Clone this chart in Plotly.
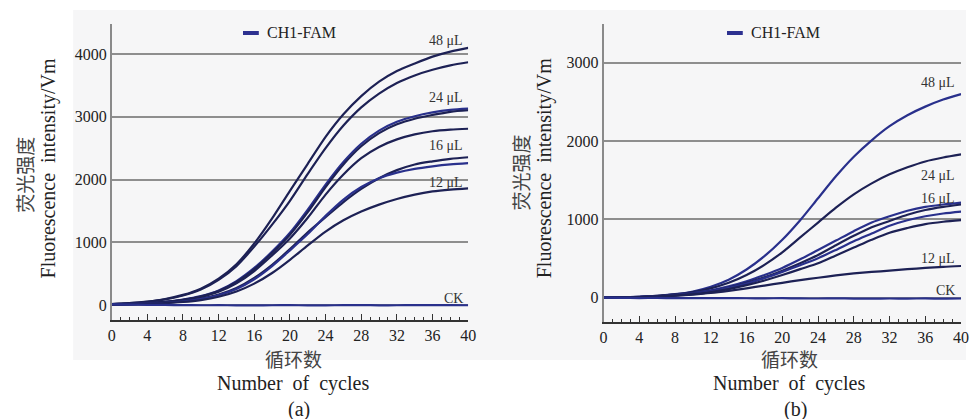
import plotly.graph_objects as go

cycles = list(range(0, 41, 2))

# Panel (a) curves (fluorescence at cycles 0,2,...,40)
a_48_1 = [15, 30, 55, 95, 160, 260, 420, 650, 980, 1380, 1820, 2250, 2680, 3040, 3330, 3560, 3730, 3850, 3960, 4040, 4100]
a_48_2 = [15, 28, 50, 88, 150, 245, 400, 620, 930, 1280, 1660, 2090, 2500, 2860, 3150, 3370, 3540, 3660, 3750, 3820, 3870]
a_24_1 = [10, 18, 30, 50, 85, 140, 230, 380, 590, 850, 1150, 1520, 1920, 2280, 2570, 2780, 2920, 3010, 3070, 3110, 3130]
a_24_2 = [10, 18, 30, 50, 82, 135, 222, 365, 570, 830, 1120, 1480, 1880, 2240, 2530, 2740, 2880, 2970, 3030, 3080, 3105]
a_24_3 = [10, 17, 28, 46, 78, 128, 210, 345, 540, 790, 1060, 1390, 1760, 2080, 2340, 2520, 2640, 2720, 2770, 2795, 2810]
a_16_1 = [8, 14, 22, 36, 60, 100, 165, 270, 430, 640, 890, 1160, 1400, 1640, 1850, 2020, 2150, 2240, 2290, 2330, 2355]
a_16_2 = [8, 13, 20, 33, 55, 92, 155, 255, 410, 620, 870, 1130, 1420, 1680, 1880, 2020, 2110, 2170, 2210, 2240, 2260]
a_12_1 = [5, 10, 17, 28, 47, 78, 130, 215, 340, 510, 720, 950, 1170, 1350, 1490, 1600, 1690, 1760, 1810, 1840, 1860]
a_ck = [10, 6, 2, 0, -3, -5, -4, -6, -8, -5, -3, -7, -6, -4, -2, -6, -5, -3, -4, -2, -5]

# Panel (b) curves
b_48_1 = [0, 5, 12, 25, 45, 80, 140, 230, 360, 530, 740, 990, 1270, 1550, 1800, 2010, 2190, 2330, 2440, 2530, 2600]
b_24_1 = [0, 5, 12, 24, 42, 72, 120, 190, 290, 420, 580, 770, 960, 1150, 1320, 1460, 1575, 1665, 1740, 1790, 1830]
b_16_1 = [0, 4, 10, 20, 35, 58, 95, 145, 210, 290, 380, 490, 610, 730, 850, 960, 1040, 1110, 1160, 1190, 1215]
b_16_2 = [0, 4, 9, 18, 32, 52, 85, 130, 190, 260, 345, 440, 545, 670, 790, 900, 980, 1060, 1120, 1160, 1190]
b_16_3 = [0, 4, 9, 18, 31, 50, 82, 125, 180, 250, 330, 415, 505, 610, 720, 820, 920, 990, 1040, 1075, 1100]
b_16_4 = [0, 4, 8, 16, 28, 45, 72, 110, 160, 220, 290, 365, 440, 540, 640, 740, 830, 890, 940, 970, 990]
b_12_1 = [0, 3, 8, 15, 25, 40, 60, 88, 120, 155, 190, 225, 255, 285, 310, 330, 345, 365, 380, 395, 405]
b_ck = [0, -2, -4, -3, -5, -6, -4, -5, -7, -8, -6, -9, -10, -8, -11, -12, -10, -11, -9, -12, -10]

x_ticks = list(range(0, 41, 4))
a_yticks = [0, 1000, 2000, 3000, 4000]
b_yticks = [0, 1000, 2000, 3000]

a_labels = ["48 μL", "24 μL", "16 μL", "12 μL", "CK"]
a_label_y = [4210, 3300, 2545, 1955, 100]
b_labels = ["48 μL", "24 μL", "16 μL", "12 μL", "CK"]
b_label_y = [2752, 1567, 1261, 507, 86]

legend_text = "CH1-FAM"
ytitle_cn = "荧光强度"
ytitle_en = "Fluorescence  intensity/Vm"
xtitle_cn = "循环数"
xtitle_en = "Number  of  cycles"
panel_tags = ["(a)", "(b)"]

W, H = 974, 419
SERIF = "'Liberation Serif', 'Times New Roman', Times, serif"
CJK = "'Noto Sans CJK SC', 'Noto Sans CJK JP', sans-serif"
DARK = "#1d2155"
BLUE = "#29308c"

fig = go.Figure()

a_series = [a_48_1, a_48_2, a_24_1, a_24_2, a_24_3, a_16_1, a_16_2, a_12_1, a_ck]
b_series = [b_48_1, b_24_1, b_16_1, b_16_2, b_16_3, b_16_4, b_12_1, b_ck]
a_cols = [DARK, DARK, BLUE, DARK, DARK, DARK, BLUE, DARK, BLUE]
b_cols = [BLUE, DARK, BLUE, DARK, BLUE, DARK, DARK, BLUE]

for ys, c in zip(a_series, a_cols):
    fig.add_trace(go.Scatter(x=cycles, y=ys, mode="lines", xaxis="x", yaxis="y",
                             line=dict(color=c, width=2.2, shape="spline", smoothing=0.8),
                             showlegend=False, hoverinfo="skip"))
for ys, c in zip(b_series, b_cols):
    fig.add_trace(go.Scatter(x=cycles, y=ys, mode="lines", xaxis="x2", yaxis="y2",
                             line=dict(color=c, width=2.2, shape="spline", smoothing=0.8),
                             showlegend=False, hoverinfo="skip"))

def px_x(p):
    return p / W

def px_y(p):
    return 1 - p / H

tickfont = dict(family=SERIF, size=16, color="#222")
common_x = dict(range=[0, 40], tickvals=x_ticks, ticks="inside", ticklen=6, tickwidth=1.3,
                tickcolor="#333", showline=True, linecolor="#333", linewidth=1.5,
                showgrid=False, zeroline=False, tickfont=tickfont,
                minor=dict(dtick=1, ticks="inside", ticklen=3, tickwidth=1, tickcolor="#333", showgrid=False))
common_y = dict(showgrid=True, gridcolor="#8e8e8e", gridwidth=1.5, showline=True,
                linecolor="#8a8a8a", linewidth=1.5, zeroline=False, ticks="",
                tickfont=dict(family=SERIF, size=16, color="#222"))

fig.update_layout(
    width=W, height=H, autosize=False,
    margin=dict(l=0, r=0, t=0, b=0),
    paper_bgcolor="white", plot_bgcolor="rgba(0,0,0,0)",
    showlegend=False,
    font=dict(family=SERIF),
    xaxis=dict(domain=[px_x(109), px_x(470)], anchor="y", **common_x),
    yaxis=dict(domain=[px_y(320), px_y(24)], anchor="x", range=[-240, 4480], tickvals=a_yticks, **common_y),
    xaxis2=dict(domain=[px_x(607), px_x(969)], anchor="y2", **common_x),
    yaxis2=dict(domain=[px_y(322), px_y(24)], anchor="x2", range=[-310, 3495], tickvals=b_yticks, **common_y),
)

shapes = [dict(type="rect", xref="paper", yref="paper", x0=px_x(70), x1=1, y0=px_y(360), y1=px_y(10),
               fillcolor="#f6f6f7", line=dict(width=0), layer="below")]
ann = []

# legends
for lx0, lx1, tx in [(242, 258, 264), (732, 748, 754)]:
    shapes.append(dict(type="line", xref="paper", yref="paper", x0=px_x(lx0), x1=px_x(lx1),
                       y0=px_y(33), y1=px_y(33), line=dict(color="#2d3190", width=4)))
    ann.append(dict(text=legend_text, xref="paper", yref="paper", x=px_x(tx), y=px_y(33),
                    xanchor="left", yanchor="middle", showarrow=False,
                    font=dict(family=SERIF, size=16, color="#222")))

for t, yv in zip(a_labels, a_label_y):
    ann.append(dict(text=t, xref="x", yref="y", x=39.6, y=yv, xanchor="right", yanchor="middle",
                    showarrow=False, font=dict(family=SERIF, size=14, color="#333")))
for t, yv in zip(b_labels, b_label_y):
    ann.append(dict(text=t, xref="x2", yref="y2", x=39.6, y=yv, xanchor="right", yanchor="middle",
                    showarrow=False, font=dict(family=SERIF, size=14, color="#333")))

titlefont_cn = dict(family=CJK, size=19, color="#444")
titlefont_en = dict(family=SERIF, size=20, color="#222")
for cx_cn, cx_en, cy_cn, cy_en in [(20, 45, 175, 168), (522, 547, 173, 168)]:
    ann.append(dict(text=ytitle_cn, xref="paper", yref="paper", x=px_x(cx_cn), y=px_y(cy_cn),
                    xanchor="center", yanchor="middle", textangle=-90, showarrow=False, font=titlefont_cn))
    ann.append(dict(text=ytitle_en, xref="paper", yref="paper", x=px_x(cx_en), y=px_y(cy_en),
                    xanchor="center", yanchor="middle", textangle=-90, showarrow=False, font=titlefont_en))

for cx, tag in [(293, panel_tags[0]), (795, panel_tags[1])]:
    ann.append(dict(text=xtitle_cn, xref="paper", yref="paper", x=px_x(cx), y=px_y(358),
                    xanchor="center", yanchor="middle", showarrow=False, font=titlefont_cn))
    ann.append(dict(text=xtitle_en, xref="paper", yref="paper", x=px_x(cx), y=px_y(383),
                    xanchor="center", yanchor="middle", showarrow=False, font=titlefont_en))
    ann.append(dict(text=tag, xref="paper", yref="paper", x=px_x(cx + 6), y=px_y(409),
                    xanchor="center", yanchor="middle", showarrow=False, font=titlefont_en))

fig.update_layout(shapes=shapes, annotations=ann)
fig.write_html("out.html")
